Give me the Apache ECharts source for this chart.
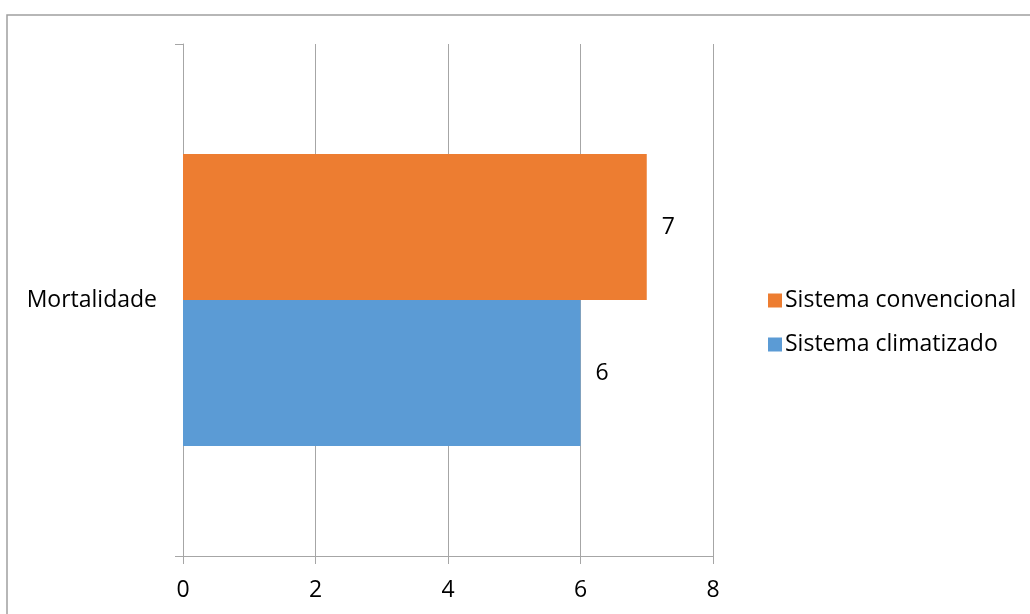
<!DOCTYPE html>
<html>
<head>
<meta charset="utf-8">
<script src="https://cdn.jsdelivr.net/npm/echarts@6/dist/echarts.min.js"></script>
<style>
  html, body { margin: 0; padding: 0; background: #fff; }
  #chart { width: 1030px; height: 614px; }
</style>
</head>
<body>
<div id="chart"></div>
<script>
// Categories and values
const categories = ['Mortalidade'];
const seriesNames = ['Sistema convencional', 'Sistema climatizado'];
const convencional = [7];
const climatizado = [6];
const xTicks = { min: 0, max: 8, interval: 2 };

const FONT = '"Open Sans", "Liberation Sans", sans-serif';
const FONT_SIZE = 23;
const GRID_COLOR = '#a6a6a6';

const chart = echarts.init(document.getElementById('chart'), null, { renderer: 'canvas' });

const labelStyle = {
  show: true,
  position: 'right',
  distance: 15,
  color: '#000',
  fontFamily: FONT,
  fontSize: FONT_SIZE
};

chart.setOption({
  animation: false,
  backgroundColor: '#fff',
  graphic: [{
    type: 'rect',
    shape: { x: 7, y: 15, width: 1200, height: 800 },
    style: { fill: 'none', stroke: '#a0a0a0', lineWidth: 1.5 },
    silent: true
  }],
  grid: { left: 183, top: 44, width: 530, height: 512, containLabel: false },
  legend: {
    orient: 'vertical',
    left: 763,
    top: 284,
    itemWidth: 14,
    itemHeight: 14,
    itemGap: 21,
    icon: 'rect',
    data: seriesNames,
    textStyle: { fontFamily: FONT, fontSize: FONT_SIZE, color: '#000', padding: [0, 0, 0, -2] }
  },
  xAxis: {
    type: 'value',
    min: xTicks.min,
    max: xTicks.max,
    interval: xTicks.interval,
    axisLine: { show: true, lineStyle: { color: GRID_COLOR, width: 1 } },
    axisTick: { show: true, length: 8, lineStyle: { color: GRID_COLOR } },
    axisLabel: { color: '#000', fontFamily: FONT, fontSize: FONT_SIZE, margin: 23 },
    splitLine: { show: true, lineStyle: { color: GRID_COLOR, width: 1 } }
  },
  yAxis: {
    type: 'category',
    data: categories,
    axisLine: { show: true, lineStyle: { color: GRID_COLOR, width: 1 } },
    axisTick: { show: true, length: 8, alignWithLabel: false, lineStyle: { color: GRID_COLOR } },
    axisLabel: { color: '#000', fontFamily: FONT, fontSize: FONT_SIZE, margin: 26 }
  },
  series: [
    {
      name: seriesNames[0],
      type: 'bar',
      data: convencional,
      barWidth: 146,
      barGap: '0%',
      itemStyle: { color: '#ed7d31' },
      label: labelStyle
    },
    {
      name: seriesNames[1],
      type: 'bar',
      data: climatizado,
      barWidth: 146,
      barGap: '0%',
      itemStyle: { color: '#5b9bd5' },
      label: labelStyle
    }
  ]
});
</script>
</body>
</html>
